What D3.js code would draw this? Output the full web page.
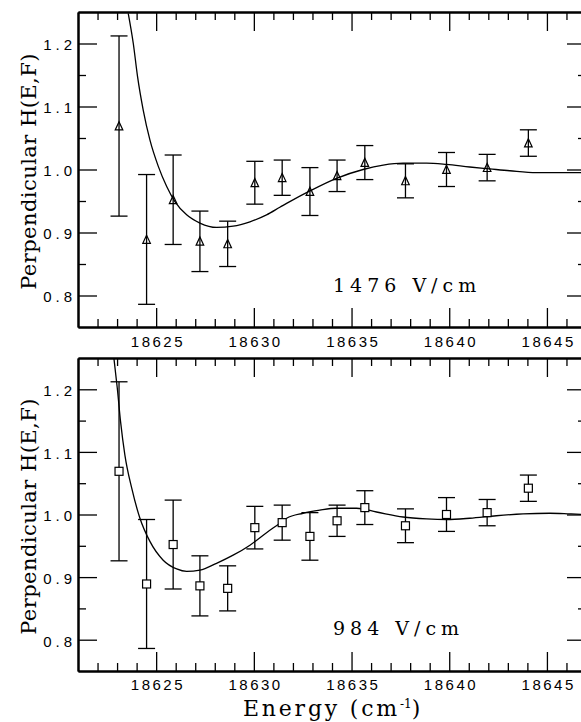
<!DOCTYPE html>
<html>
<head>
<meta charset="utf-8">
<script src="https://cdn.jsdelivr.net/npm/d3@7"></script>
<style>
  html, body { margin: 0; padding: 0; background: #fff; }
  svg { display: block; }
</style>
</head>
<body>
<svg id="chart" width="581" height="722"></svg>
<script>
// Measured H(E,F) points (perpendicular polarisation) with their 1-sigma errors
const energies = [18623.10, 18624.51, 18625.87, 18627.24, 18628.66, 18630.05, 18631.45,
                  18632.87, 18634.26, 18635.68, 18637.76, 18639.86, 18641.94, 18644.05];
const hValues  = [1.069, 0.889, 0.952, 0.886, 0.882, 0.979, 0.987,
                  0.965, 0.990, 1.011, 0.982, 1.000, 1.003, 1.042];
const hErrors  = [0.143, 0.103, 0.071, 0.048, 0.036, 0.034, 0.028,
                  0.038, 0.025, 0.027, 0.027, 0.027, 0.021, 0.021];

// Calculated curve at 1476 V/cm
const fit1476E = [18623.57, 18623.83, 18624.05, 18624.34, 18624.68, 18625.11, 18625.54, 18625.96,
                  18626.56, 18627.24, 18628.09, 18628.94, 18629.80, 18630.65, 18631.33, 18631.84,
                  18632.87, 18634.23, 18635.59, 18636.62, 18637.64, 18638.84, 18639.86, 18641.05,
                  18642.07, 18643.10, 18644.46, 18645.82, 18647.00];
const fit1476H = [1.248, 1.200, 1.147, 1.094, 1.047, 1.005, 0.973, 0.949,
                  0.928, 0.915, 0.908, 0.910, 0.917, 0.928, 0.940, 0.949,
                  0.966, 0.986, 1.000, 1.007, 1.010, 1.010, 1.008, 1.004,
                  1.001, 0.998, 0.995, 0.995, 0.995];

// Calculated curve at 984 V/cm
const fit984E = [18622.84, 18623.01, 18623.18, 18623.40, 18623.75, 18624.17, 18624.68, 18625.36,
                 18626.05, 18626.56, 18627.24, 18628.09, 18628.94, 18629.80, 18630.65, 18631.33,
                 18631.68, 18632.52, 18633.38, 18634.23, 18635.26, 18636.28, 18637.64, 18638.84,
                 18639.86, 18641.05, 18642.41, 18643.78, 18645.14, 18646.17, 18647.00];
const fit984H = [1.249, 1.202, 1.148, 1.095, 1.042, 0.994, 0.957, 0.927,
                 0.913, 0.909, 0.911, 0.922, 0.935, 0.951, 0.971, 0.986,
                 0.994, 1.002, 1.007, 1.010, 1.010, 1.004, 0.996, 0.993,
                 0.992, 0.994, 0.998, 1.001, 1.002, 1.001, 1.000];

const fieldLabels = ["1476 V/cm", "984 V/cm"];
const energyDomain = [18621, 18647];
const hDomain = [0.75, 1.25];
const xMajorTicks = [18625, 18630, 18635, 18640, 18645];
const xMinorTicks = [18622, 18623, 18624, 18626, 18627, 18628, 18629, 18631, 18632, 18633, 18634,
                     18636, 18637, 18638, 18639, 18641, 18642, 18643, 18644, 18646];
const yMajorTicks = [0.8, 0.9, 1.0, 1.1, 1.2];
const yMinorTicks = [0.85, 0.95, 1.05, 1.15];
const yTitle = "Perpendicular H(E,F)";

const svg = d3.select("#chart");
const left = 78, right = 586;
const panels = [
  { top: 12,  bottom: 327, fitE: fit1476E, fitH: fit1476H, label: fieldLabels[0], marker: "triangle" },
  { top: 358, bottom: 671, fitE: fit984E,  fitH: fit984H,  label: fieldLabels[1], marker: "square" }
];

const x = d3.scaleLinear().domain(energyDomain).range([left, right]);
const MAJOR = 19, MINOR = 8;
const SANS = "Liberation Sans";
const SERIF = "DejaVu Serif";

function styleAxis(g, showText, spacing) {
  g.select(".domain").attr("stroke", "#000").attr("stroke-width", 2);
  g.selectAll(".tick line").attr("stroke", "#000").attr("stroke-width", 1.3);
  g.selectAll(".tick text")
    .attr("fill", "#000")
    .style("font-family", SANS)
    .style("font-size", "15px")
    .style("letter-spacing", (spacing || 2.5) + "px")
    .style("display", showText ? null : "none");
}

panels.forEach((p, i) => {
  const y = d3.scaleLinear().domain(hDomain).range([p.bottom, p.top]);
  const g = svg.append("g");

  const clipId = "clip" + i;
  g.append("clipPath").attr("id", clipId)
    .append("rect").attr("x", left).attr("y", p.top)
    .attr("width", right - left).attr("height", p.bottom - p.top);

  // minor ticks on all four sides
  g.append("g").attr("transform", `translate(0,${p.bottom})`)
    .call(d3.axisBottom(x).tickValues(xMinorTicks).tickSize(-MINOR).tickSizeOuter(0).tickFormat(""))
    .call(a => styleAxis(a, false));
  g.append("g").attr("transform", `translate(0,${p.top})`)
    .call(d3.axisTop(x).tickValues(xMinorTicks).tickSize(-MINOR).tickSizeOuter(0).tickFormat(""))
    .call(a => styleAxis(a, false));
  g.append("g").attr("transform", `translate(${left},0)`)
    .call(d3.axisLeft(y).tickValues(yMinorTicks).tickSize(-MINOR).tickSizeOuter(0).tickFormat(""))
    .call(a => styleAxis(a, false));
  g.append("g").attr("transform", `translate(${right},0)`)
    .call(d3.axisRight(y).tickValues(yMinorTicks).tickSize(-MINOR).tickSizeOuter(0).tickFormat(""))
    .call(a => styleAxis(a, false));

  // major ticks and labels
  g.append("g").attr("transform", `translate(0,${p.bottom})`)
    .call(d3.axisBottom(x).tickValues(xMajorTicks).tickSize(-MAJOR).tickSizeOuter(0)
      .tickPadding(i === 0 ? 9 : 8).tickFormat(d3.format("d")))
    .call(a => styleAxis(a, true, 2.5))
    .call(a => a.selectAll(".tick text").attr("dx", "1.25px"));
  g.append("g").attr("transform", `translate(0,${p.top})`)
    .call(d3.axisTop(x).tickValues(xMajorTicks).tickSize(-MAJOR).tickSizeOuter(0).tickFormat(""))
    .call(a => styleAxis(a, false));
  g.append("g").attr("transform", `translate(${left},0)`)
    .call(d3.axisLeft(y).tickValues(yMajorTicks).tickSize(-MAJOR).tickSizeOuter(0)
      .tickPadding(2).tickFormat(d3.format(".1f")))
    .call(a => styleAxis(a, true, 4))
    .call(a => a.selectAll(".tick text").attr("dy", "0.42em"));
  g.append("g").attr("transform", `translate(${right},0)`)
    .call(d3.axisRight(y).tickValues(yMajorTicks).tickSize(-MAJOR).tickSizeOuter(0).tickFormat(""))
    .call(a => styleAxis(a, false));

  // calculated curve
  const fitPts = p.fitE.map((e, k) => [e, p.fitH[k]]);
  g.append("path")
    .attr("clip-path", `url(#${clipId})`)
    .attr("d", d3.line().x(d => x(d[0])).y(d => y(d[1])).curve(d3.curveMonotoneX)(fitPts))
    .attr("fill", "none").attr("stroke", "#000").attr("stroke-width", 1.3);

  // error bars
  const pts = energies.map((e, k) => ({ e, v: hValues[k], s: hErrors[k] }));
  const capHalf = 8.5;
  const bars = g.append("g").attr("stroke", "#000").attr("stroke-width", 1.3);
  pts.forEach(d => {
    const cx = x(d.e), y0 = y(d.v - d.s), y1 = y(d.v + d.s);
    bars.append("line").attr("x1", cx).attr("x2", cx).attr("y1", y0).attr("y2", y1);
    bars.append("line").attr("x1", cx - capHalf).attr("x2", cx + capHalf).attr("y1", y0).attr("y2", y0);
    bars.append("line").attr("x1", cx - capHalf).attr("x2", cx + capHalf).attr("y1", y1).attr("y2", y1);
  });

  // markers
  const markers = g.append("g").attr("stroke", "#000").attr("stroke-width", 1.2);
  pts.forEach(d => {
    const cx = x(d.e), cy = y(d.v);
    if (p.marker === "triangle") {
      markers.append("path")
        .attr("d", `M${cx},${cy - 4.3}L${cx + 3.8},${cy + 3.9}L${cx - 3.8},${cy + 3.9}Z`)
        .attr("fill", "none");
    } else {
      markers.append("rect")
        .attr("x", cx - 4).attr("y", cy - 4).attr("width", 8).attr("height", 8)
        .attr("fill", "#fff");
    }
  });

  // field strength annotation
  g.append("text")
    .attr("x", 333).attr("y", i === 0 ? 291.5 : 635)
    .style("font-family", SERIF).style("font-size", "19px")
    .style("letter-spacing", "5px")
    .attr("fill", "#000")
    .text(p.label);

  // y-axis title
  g.append("text")
    .attr("transform", `translate(36,${(p.top + p.bottom) / 2 + 2}) rotate(-90)`)
    .attr("text-anchor", "middle")
    .style("font-family", SERIF).style("font-size", "21px")
    .style("letter-spacing", "0.45px")
    .attr("fill", "#000")
    .text(yTitle);
});

// x-axis title
const xt = svg.append("text")
  .attr("x", (left + right) / 2 + 1).attr("y", 716)
  .attr("text-anchor", "middle")
  .style("font-family", SERIF).style("font-size", "22px")
  .style("letter-spacing", "2.8px")
  .attr("fill", "#000");
xt.append("tspan").text("Energy (cm");
xt.append("tspan").attr("dy", -8).style("font-size", "12px").style("letter-spacing", "0px").text("-1");
xt.append("tspan").attr("dy", 8).text(")");
</script>
</body>
</html>
